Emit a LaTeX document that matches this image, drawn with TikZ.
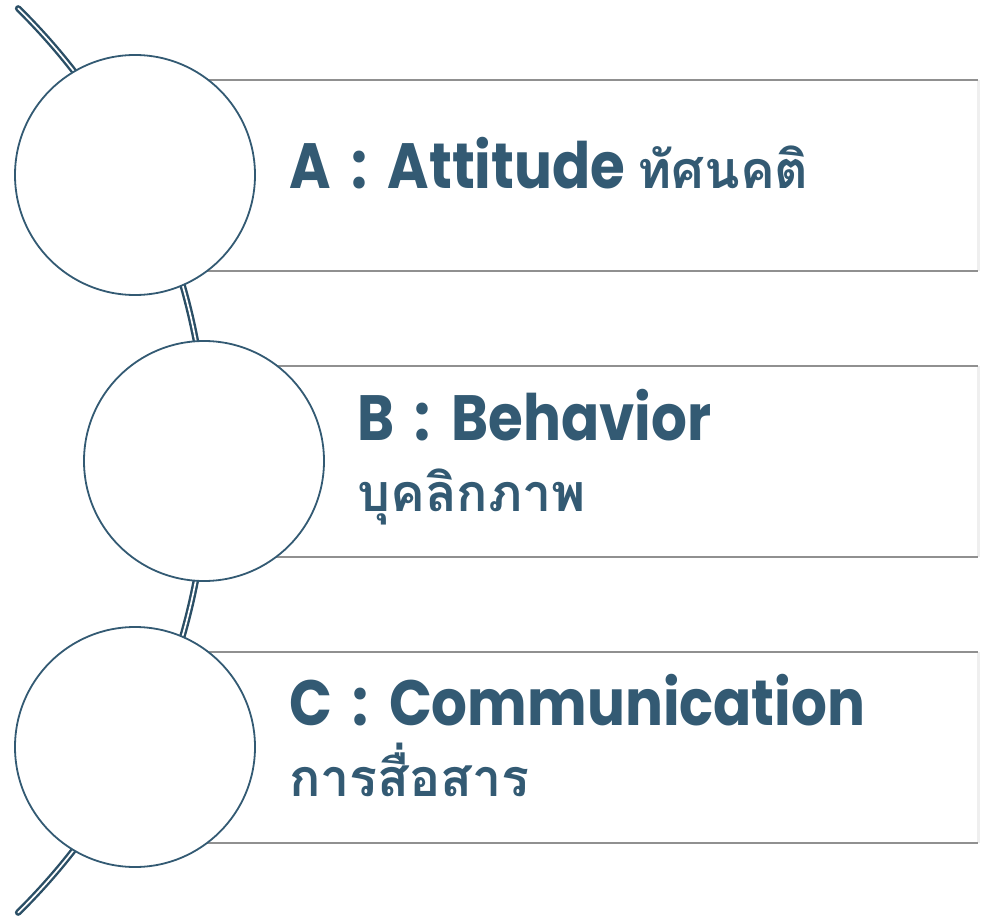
\documentclass[tikz,border=0pt]{standalone}
\usepackage{fontspec}
\newfontfamily\headfont{Poppins}[FakeStretch=0.88]
\newfontfamily\thaifont[Script=Thai]{Loma}
\newcommand\sep{\hspace{0.32em}:\hspace{0.32em}}
\definecolor{ink}{HTML}{335A73}
\definecolor{spine}{HTML}{2B4F66}
\definecolor{rule}{HTML}{909090}
\definecolor{edge}{HTML}{EFEFEF}
\tikzset{
  bead/.style={circle, draw=ink, line width=1.8pt, fill=white, minimum size=240pt, inner sep=0pt},
  band/.style={draw=rule, line width=2pt},
  bandedge/.style={draw=edge, line width=3pt},
  spineline/.style={draw=spine, double=white, line width=2.4pt, double distance=1.7pt, line cap=round},
  title/.style={anchor=base west, inner sep=0pt, text=ink, font=\fontsize{64}{72}\headfont\bfseries},
  thai/.style={anchor=base west, inner sep=0pt, text=ink, font=\fontsize{52}{60}\thaifont\bfseries}
}
\begin{document}
\begin{tikzpicture}[x=1pt,y=-1pt]
\useasboundingbox (0,0) rectangle (985,917);

% bands behind the circles
\coordinate (a1) at (135,80);  \coordinate (a2) at (978,80);
\coordinate (a3) at (135,271); \coordinate (a4) at (978,271);
\coordinate (b1) at (204,366); \coordinate (b2) at (978,366);
\coordinate (b3) at (204,557); \coordinate (b4) at (978,557);
\coordinate (c1) at (135,652); \coordinate (c2) at (978,652);
\coordinate (c3) at (135,843); \coordinate (c4) at (978,843);
\foreach \p in {a,b,c}{
  \draw[bandedge] (\p2) -- (\p4);
  \draw[band] (\p1) -- (\p2);
  \draw[band] (\p3) -- (\p4);
}

% curved spine
\coordinate (hub) at (-427.7,460.5);
\draw[spineline] (hub) ++(-45.4:635) arc[start angle=-45.4, end angle=45.4, radius=635];

% circles
\node[bead] (ca) at (135,175) {};
\node[bead] (cb) at (204,461) {};
\node[bead] (cc) at (135,747) {};

% labels
\node[title] (ta) at (289,189) {A\sep Attitude {\fontsize{52}{60}\thaifont\bfseries ทัศนคติ}};
\node[title] (tb) at (357,440) {B\sep Behavior};
\node[thai]  (tb2) at (357,511) {บุคลิกภาพ};
\node[title] (tc) at (289,725) {C\sep Communication};
\node[thai]  (tc2) at (289,796) {การสื่อสาร};
\end{tikzpicture}
\end{document}
